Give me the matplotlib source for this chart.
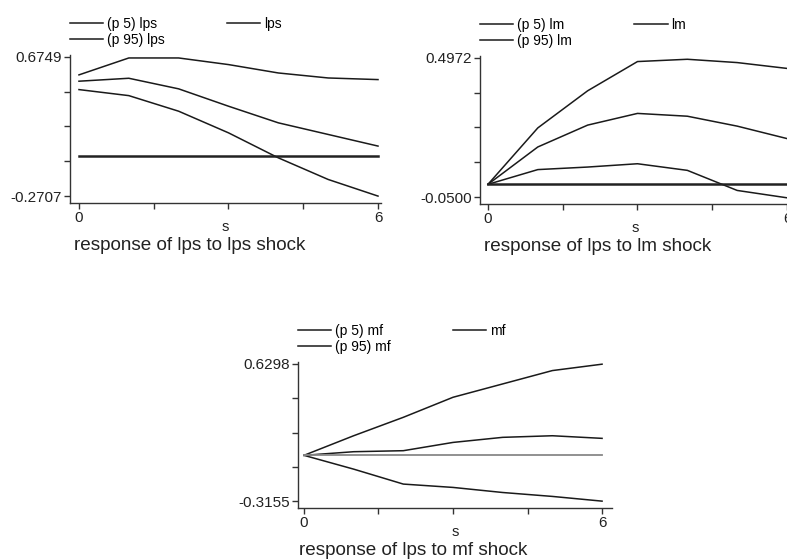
import numpy as np
import matplotlib
matplotlib.use("Agg")
import matplotlib.pyplot as plt

# horizon
steps = [0, 1, 2, 3, 4, 5, 6]
zero = [0, 0, 0, 0, 0, 0, 0]

# response of lps to lps shock
lps_p5 = [0.453, 0.412, 0.306, 0.159, -0.011, -0.158, -0.271]
lps_p95 = [0.553, 0.668, 0.668, 0.623, 0.566, 0.532, 0.521]
lps_irf = [0.510, 0.530, 0.458, 0.340, 0.227, 0.148, 0.069]
lps_range = (-0.2707, 0.6749)

# response of lps to lm shock
lm_p5 = [0.0, 0.058, 0.068, 0.081, 0.055, -0.024, -0.053]
lm_p95 = [0.0, 0.222, 0.368, 0.483, 0.492, 0.479, 0.456]
lm_irf = [0.0, 0.147, 0.233, 0.279, 0.268, 0.229, 0.180]
lm_range = (-0.0500, 0.4972)

# response of lps to mf shock
mf_p5 = [0.0, -0.095, -0.198, -0.221, -0.256, -0.283, -0.3155]
mf_p95 = [0.0, 0.135, 0.262, 0.400, 0.492, 0.584, 0.628]
mf_irf = [0.0, 0.025, 0.032, 0.089, 0.124, 0.135, 0.117]
mf_range = (-0.3155, 0.6298)

x_ticks = [0, 1.5, 3, 4.5, 6]

plt.rcParams['font.family'] = ['Liberation Sans', 'DejaVu Sans']

fig = plt.figure(figsize=(7.87, 5.6), dpi=100)
W, H = 787.0, 560.0


def panel(box, name, p5, p95, irf, yr, xl, zero_col, zero_lw, title_x):
    # box in pixels: left, spine bottom (from top), width, height
    l, b, w, h = box
    ax = fig.add_axes([l / W, (H - b) / H, w / W, h / H])
    c = '#1a1a1a'
    ax.plot(steps, p5, color=c, lw=1.1, label='(p 5) ' + name)
    ax.plot(steps, p95, color=c, lw=1.1, label='(p 95) ' + name)
    ax.plot(steps, irf, color=c, lw=1.1, label=name)
    ax.plot(steps, zero, color=zero_col, lw=zero_lw)

    lo, hi = yr
    span = hi - lo
    ax.set_ylim(lo - span * 0.05, hi + span * 0.014)
    ax.set_xlim(*xl)
    yt = np.linspace(lo, hi, 5)
    ax.set_yticks(yt)
    ax.set_yticklabels(['%.4f' % lo, '', '', '', '%.4f' % hi])
    ax.set_xticks(x_ticks)
    ax.set_xticklabels(['0', '', '', '', '6'])
    for s in ['top', 'right']:
        ax.spines[s].set_visible(False)
    for s in ['left', 'bottom']:
        ax.spines[s].set_color('#333333')
        ax.spines[s].set_linewidth(1.0)
    ax.tick_params(direction='out', length=4.5, width=1, color='#333333',
                   labelsize=11, pad=1.5, labelcolor='#222222')
    ax.set_xlabel('s', fontsize=10.5, labelpad=-4, color='#222222')
    ax.text(title_x, -0.29, 'response of lps to %s shock' % name,
            transform=ax.transAxes, ha='center', va='center',
            fontsize=13.6, color='#222222')
    ax.legend(loc='lower left', bbox_to_anchor=(0.0, 1.055), ncol=2,
              frameon=False, fontsize=10, handlelength=2.4,
              handletextpad=0.25, columnspacing=4.5, labelspacing=0.12,
              borderpad=0, borderaxespad=0)
    return ax


panel((70, 203, 311, 148), 'lps', lps_p5, lps_p95, lps_irf, lps_range,
      (-0.18, 6.06), '#222222', 1.8, 0.386)
panel((480, 204, 310, 148), 'lm', lm_p5, lm_p95, lm_irf, lm_range,
      (-0.16, 6.06), '#222222', 1.8, 0.381)
panel((298, 508, 314, 146), 'mf', mf_p5, mf_p95, mf_irf, mf_range,
      (-0.12, 6.2), '#888888', 1.3, 0.366)

fig.savefig('out.png', dpi=100)
